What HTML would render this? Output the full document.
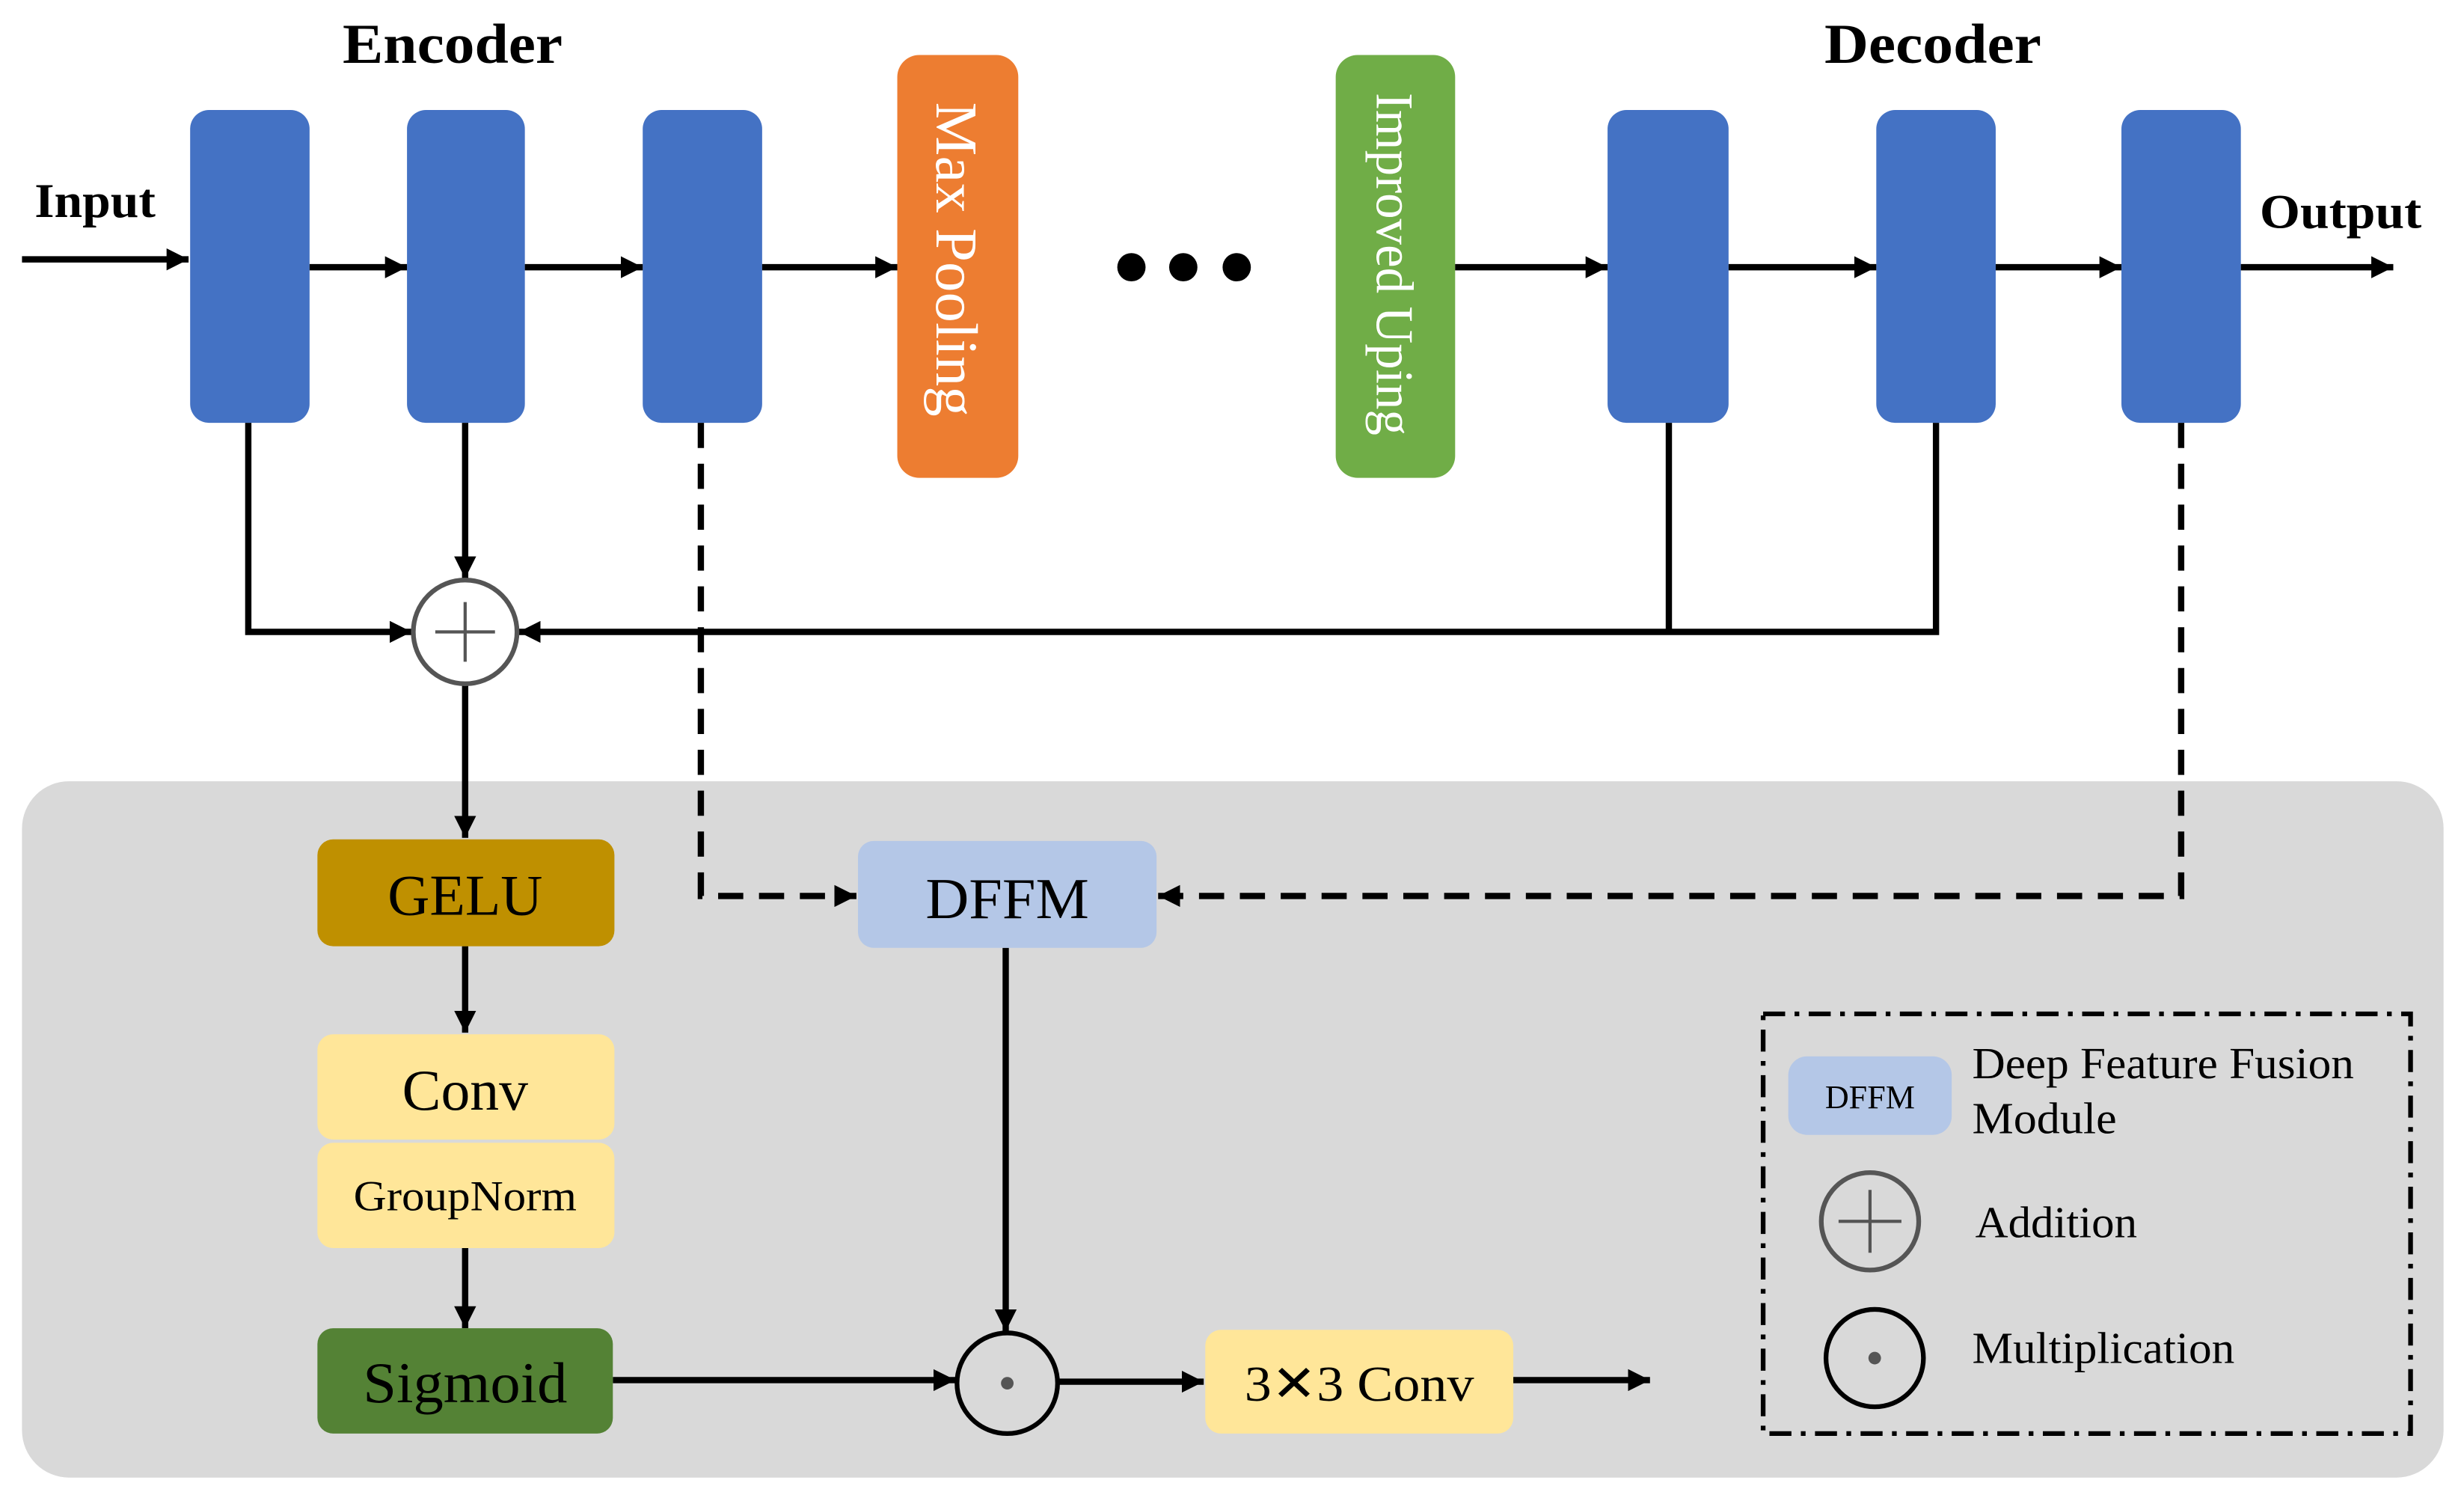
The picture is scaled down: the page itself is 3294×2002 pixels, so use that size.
<!DOCTYPE html>
<html><head><meta charset="utf-8"><style>html,body{margin:0;padding:0;background:#fff}svg{display:block}</style></head>
<body>
<svg width="3294" height="2002" viewBox="0 0 1568 953" preserveAspectRatio="none" xmlns="http://www.w3.org/2000/svg" font-family="'Liberation Serif', serif">
<defs>
<marker id="b" viewBox="0 0 10 10" refX="10" refY="5" markerWidth="14" markerHeight="14" orient="auto" markerUnits="userSpaceOnUse"><path d="M0,0 L10,5 L0,10 z" fill="#000"/></marker>
</defs>
<rect x="14" y="497" width="1541" height="443" rx="30" fill="#D9D9D9"/>
<g fill="#000" font-weight="bold">
<text x="288" y="40" font-size="36" text-anchor="middle" textLength="140" lengthAdjust="spacingAndGlyphs">Encoder</text>
<text x="1230" y="40" font-size="36" text-anchor="middle" textLength="138" lengthAdjust="spacingAndGlyphs">Decoder</text>
<text x="22" y="138" font-size="31" textLength="77" lengthAdjust="spacingAndGlyphs">Input</text>
<text x="1438" y="145" font-size="31" textLength="103" lengthAdjust="spacingAndGlyphs">Output</text>
</g>
<g fill="#4472C4">
<rect x="121" y="70" width="76" height="199" rx="12"/>
<rect x="259" y="70" width="75" height="199" rx="12"/>
<rect x="409" y="70" width="76" height="199" rx="12"/>
<rect x="1023" y="70" width="77" height="199" rx="12"/>
<rect x="1194" y="70" width="76" height="199" rx="12"/>
<rect x="1350" y="70" width="76" height="199" rx="12"/>
</g>
<rect x="571" y="35" width="77" height="269" rx="14" fill="#ED7D31"/>
<rect x="850" y="35" width="76" height="269" rx="14" fill="#70AD47"/>
<text transform="translate(596,165) rotate(90)" font-size="38" fill="#fff" text-anchor="middle" textLength="200" lengthAdjust="spacingAndGlyphs">Max Pooling</text>
<text transform="translate(876,168) rotate(90)" font-size="34" fill="#fff" text-anchor="middle" textLength="218" lengthAdjust="spacingAndGlyphs">Improved Uping</text>
<circle cx="720" cy="170" r="9"/><circle cx="753" cy="170" r="9"/><circle cx="787" cy="170" r="9"/>
<g stroke="#000" stroke-width="4" fill="none">
<line x1="14" y1="165" x2="120" y2="165" marker-end="url(#b)"/>
<line x1="197" y1="170" x2="259" y2="170" marker-end="url(#b)"/>
<line x1="334" y1="170" x2="409" y2="170" marker-end="url(#b)"/>
<line x1="485" y1="170" x2="571" y2="170" marker-end="url(#b)"/>
<line x1="926" y1="170" x2="1023" y2="170" marker-end="url(#b)"/>
<line x1="1100" y1="170" x2="1194" y2="170" marker-end="url(#b)"/>
<line x1="1270" y1="170" x2="1350" y2="170" marker-end="url(#b)"/>
<line x1="1426" y1="170" x2="1523" y2="170" marker-end="url(#b)"/>
<polyline points="158,269 158,402 262,402" marker-end="url(#b)"/>
<line x1="296" y1="269" x2="296" y2="368" marker-end="url(#b)"/>
<line x1="1062" y1="269" x2="1062" y2="402"/>
<polyline points="1232,269 1232,402 330,402" marker-end="url(#b)"/>
<line x1="296" y1="436" x2="296" y2="533" marker-end="url(#b)"/>
<polyline points="446,269 446,570 545,570" stroke-dasharray="16,10" marker-end="url(#b)"/>
<polyline points="1388,269 1388,570 737,570" stroke-dasharray="16,10" marker-end="url(#b)"/>
<line x1="296" y1="602" x2="296" y2="657" marker-end="url(#b)"/>
<line x1="296" y1="794" x2="296" y2="845" marker-end="url(#b)"/>
<line x1="640" y1="603" x2="640" y2="847" marker-end="url(#b)"/>
<line x1="390" y1="878" x2="608" y2="878" marker-end="url(#b)"/>
<line x1="673" y1="879" x2="766" y2="879" marker-end="url(#b)"/>
<line x1="963" y1="878" x2="1050" y2="878" marker-end="url(#b)"/>
</g>
<circle cx="296" cy="402" r="33" fill="#fff" stroke="#555" stroke-width="3"/>
<path d="M277,402 H315 M296,383 V421" stroke="#555" stroke-width="2"/>
<rect x="202" y="534" width="189" height="68" rx="10" fill="#BF9000"/>
<text x="296" y="582" font-size="37" text-anchor="middle">GELU</text>
<rect x="202" y="658" width="189" height="67" rx="10" fill="#FFE699"/>
<text x="296" y="706" font-size="37" text-anchor="middle">Conv</text>
<rect x="202" y="727" width="189" height="67" rx="10" fill="#FFE699"/>
<text x="296" y="770" font-size="27" text-anchor="middle" textLength="142" lengthAdjust="spacingAndGlyphs">GroupNorm</text>
<rect x="202" y="845" width="188" height="67" rx="10" fill="#548235"/>
<text x="296" y="892" font-size="37" text-anchor="middle" textLength="130" lengthAdjust="spacingAndGlyphs">Sigmoid</text>
<rect x="546" y="535" width="190" height="68" rx="10" fill="#B4C7E7"/>
<text x="641" y="584" font-size="37" text-anchor="middle" textLength="104" lengthAdjust="spacingAndGlyphs">DFFM</text>
<circle cx="641" cy="880" r="32" fill="none" stroke="#000" stroke-width="3"/>
<circle cx="641" cy="880" r="4" fill="#555"/>
<rect x="767" y="846" width="196" height="66" rx="10" fill="#FFE699"/>
<text x="865" y="891" font-size="32" text-anchor="middle" textLength="146" lengthAdjust="spacingAndGlyphs">3✕3 Conv</text>
<rect x="1122" y="645" width="412" height="267" fill="none" stroke="#000" stroke-width="3" stroke-dasharray="14,6,3,6"/>
<rect x="1138" y="672" width="104" height="50" rx="12" fill="#B4C7E7"/>
<text x="1190" y="705" font-size="21" text-anchor="middle">DFFM</text>
<text x="1255" y="686" font-size="28" textLength="243" lengthAdjust="spacingAndGlyphs">Deep Feature Fusion</text>
<text x="1255" y="721" font-size="28" textLength="92" lengthAdjust="spacingAndGlyphs">Module</text>
<circle cx="1190" cy="777" r="31" fill="none" stroke="#555" stroke-width="3"/>
<path d="M1170,777 H1210 M1190,757 V797" stroke="#555" stroke-width="2"/>
<text x="1257" y="787" font-size="28" textLength="103" lengthAdjust="spacingAndGlyphs">Addition</text>
<circle cx="1193" cy="864" r="31" fill="none" stroke="#000" stroke-width="3"/>
<circle cx="1193" cy="864" r="4" fill="#555"/>
<text x="1255" y="867" font-size="28" textLength="167" lengthAdjust="spacingAndGlyphs">Multiplication</text>
</svg>
</body></html>
